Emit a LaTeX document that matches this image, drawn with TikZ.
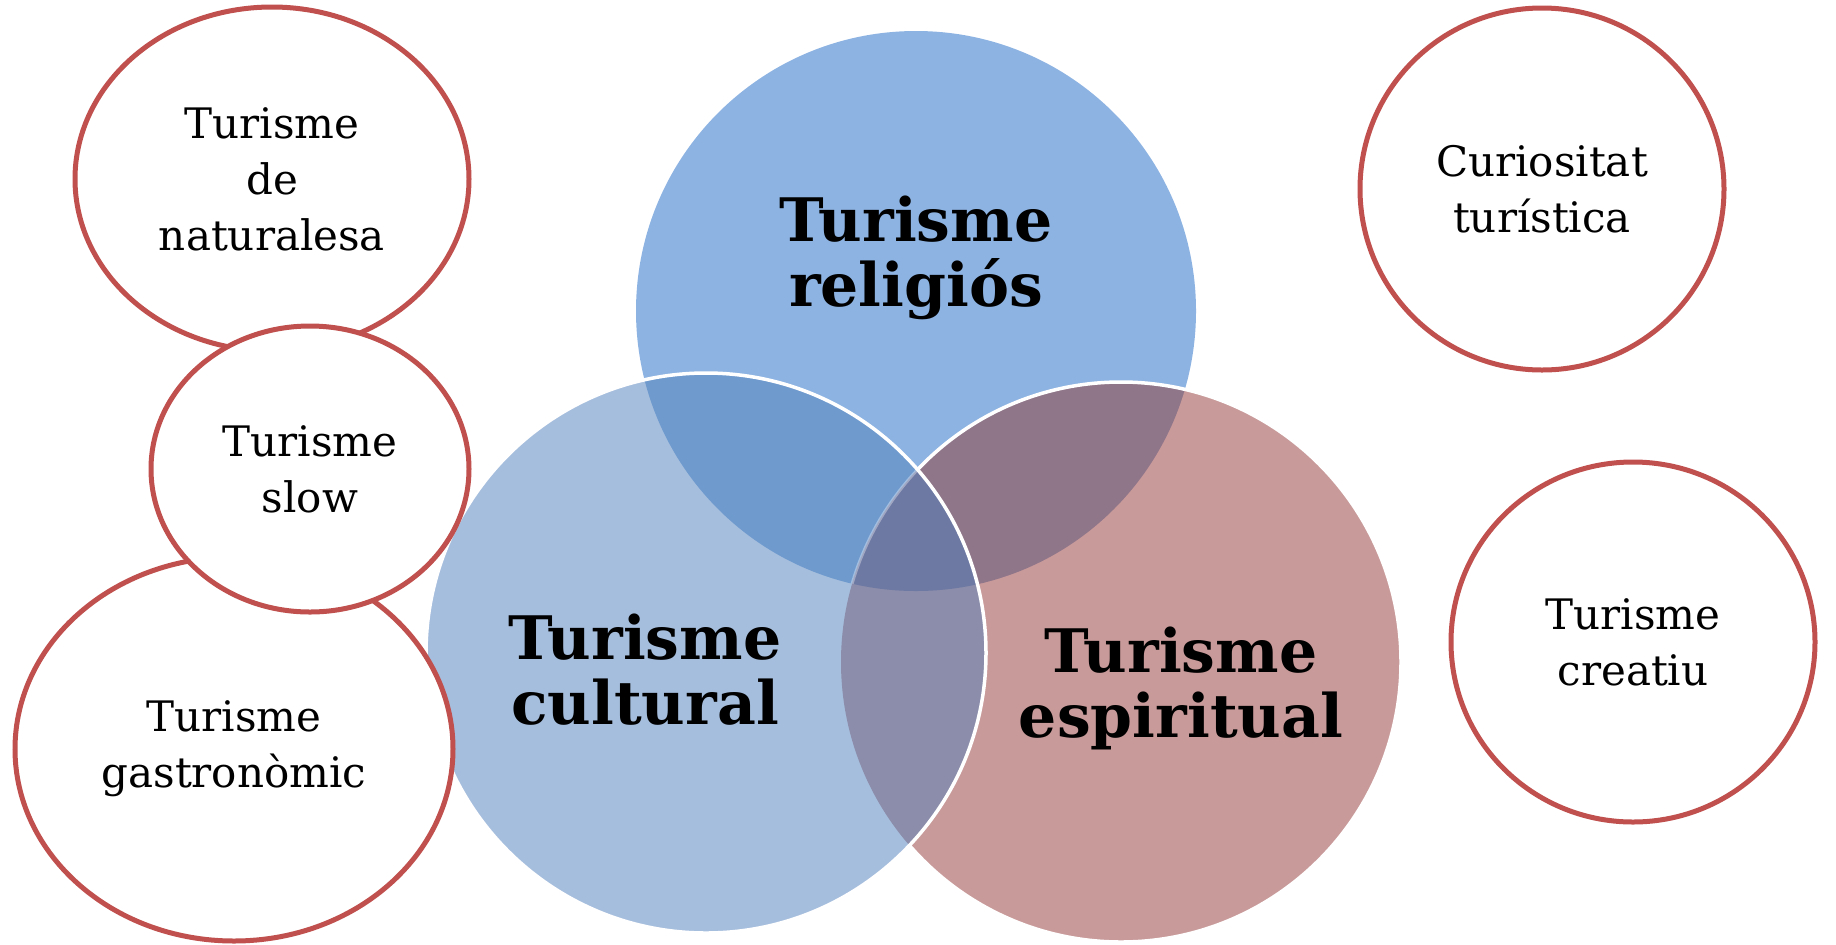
\documentclass[tikz,border=0pt]{standalone}
\usepackage{fontspec}
\setmainfont{DejaVu Serif}
\usepackage{xcolor}
\usetikzlibrary{positioning}
\usetikzlibrary{shapes.geometric}

\definecolor{relblue}{HTML}{8DB3E2}
\definecolor{cultblue}{HTML}{A6BEDD}
\definecolor{esprose}{HTML}{C99A9A}
\definecolor{relcult}{HTML}{6F9ACE}
\definecolor{relesp}{HTML}{907689}
\definecolor{cultesp}{HTML}{8B8DAA}
\definecolor{allthree}{HTML}{6E79A3}
\definecolor{bubred}{HTML}{C0504D}

\tikzset{
  bubble/.style={ellipse, draw=bubred, line width=2.5pt, fill=white, align=center,
    inner sep=0pt, font=\fontsize{21}{28}\selectfont},
  venntext/.style={align=center, font=\fontsize{30}{32.5}\selectfont\bfseries}
}

\begin{document}
\begin{tikzpicture}[x=0.5pt,y=-0.5pt]
    \useasboundingbox (0,0) rectangle (1836,944);
    \coordinate (relc) at (916,311);
    \coordinate (cultc) at (706,653);
    \coordinate (espc) at (1121,662);

    % venn circles
    \fill [relblue] (relc) circle [radius=280];
    \fill [esprose] (espc) circle [radius=280];
    \begin{scope}
      \clip (relc) circle [radius=280];
      \fill [relesp] (espc) circle [radius=280];
    \end{scope}
    \draw [white, line width=1.75pt] (espc) circle [radius=280];
    \fill [cultblue] (cultc) circle [radius=280];
    \begin{scope}
      \clip (cultc) circle [radius=280];
      \fill [relcult] (relc) circle [radius=280];
      \fill [cultesp] (espc) circle [radius=280];
      \clip (relc) circle [radius=280];
      \fill [allthree] (espc) circle [radius=280];
      \draw [white, opacity=0.35, line width=1.5pt] (espc) circle [radius=280];
    \end{scope}
    \draw [white, line width=1.75pt] (cultc) circle [radius=280];

    % bubbles round the venn
    \node(natura) [bubble, minimum width=197pt, minimum height=172pt] at (272,179) {Turisme\\de\\naturalesa};
    \node(gastro) [bubble, minimum width=219pt, minimum height=192pt] at (234,749) {Turisme\\gastronòmic};
    \node(slow) [bubble, minimum width=159pt, minimum height=143pt] at (310,469) {Turisme\\slow};
    \node(curio) [bubble, minimum width=182pt, minimum height=181pt] at (1542,189) {Curiositat\\turística};
    \node(creat) [bubble, minimum width=182pt, minimum height=180pt] at (1633,642) {Turisme\\creatiu};

    \node(religios) [venntext] at (916,258) {Turisme\\religiós};
    \node(cultural) [venntext] at (645,670) {Turisme\\cultural};
    \node(espiritual) [venntext] at (1181,688) {Turisme\\espiritual};
  \end{tikzpicture}
\end{document}
